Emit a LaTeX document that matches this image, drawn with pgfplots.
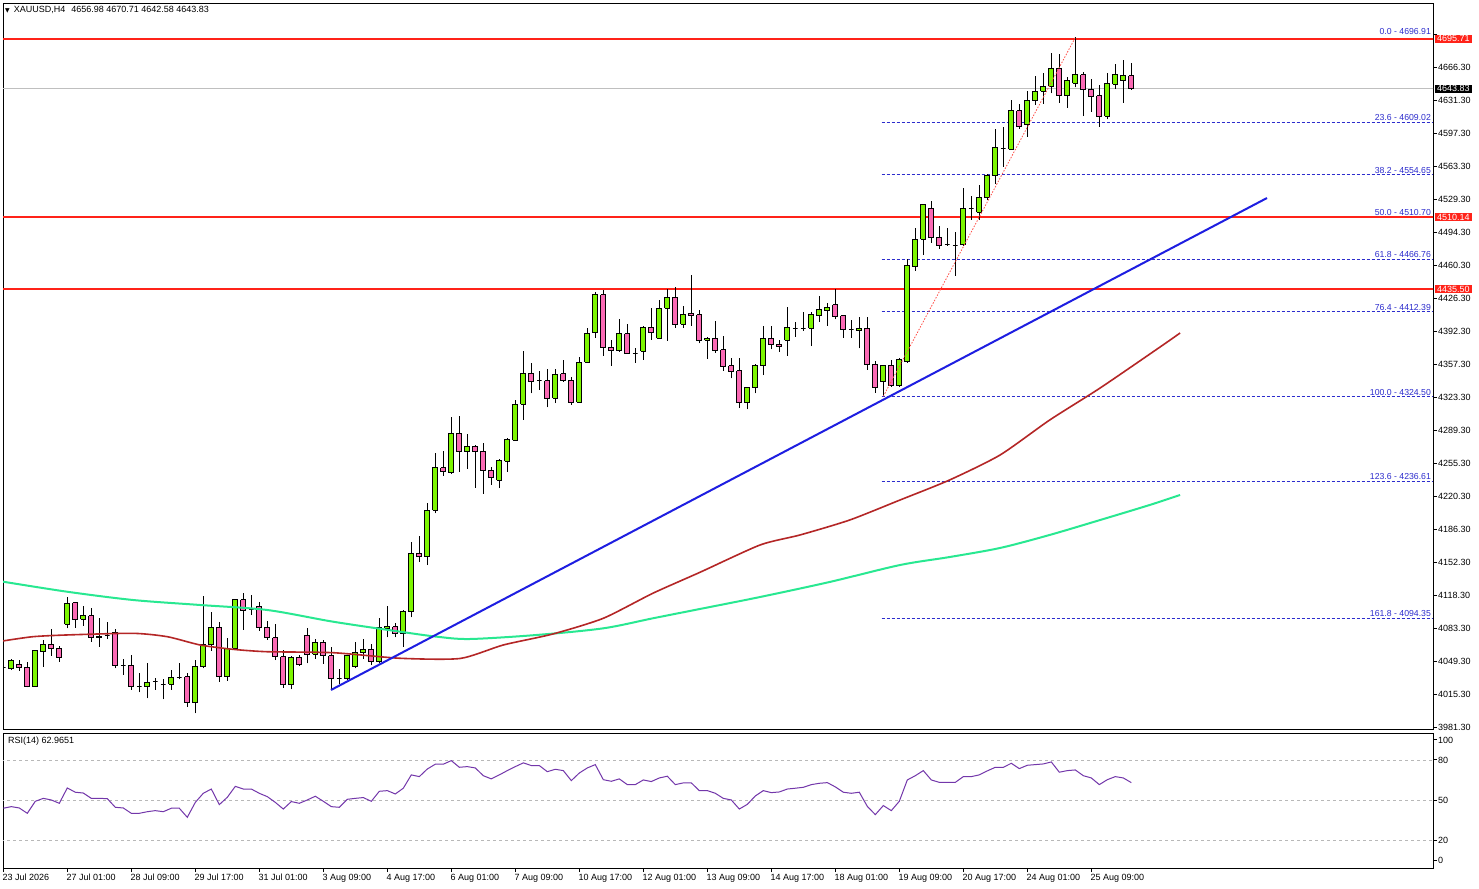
\documentclass[border=0pt]{standalone}
\usepackage{fontspec}
\setmainfont{Liberation Sans}
\newfontfamily\djv{DejaVu Sans}
\usepackage{pgfplots}
\pgfplotsset{compat=1.18}
\definecolor{upcol}{RGB}{124,245,0}
\definecolor{dncol}{RGB}{250,105,180}
\definecolor{maG}{RGB}{40,232,145}
\definecolor{maR}{RGB}{180,38,38}
\definecolor{trend}{RGB}{30,30,225}
\definecolor{hline}{RGB}{255,35,25}
\definecolor{fib}{RGB}{45,45,205}
\definecolor{rsi}{RGB}{115,55,170}
\newcommand{\candle}[5]{%
  \pgfmathsetmacro\xl{#1-0.3}\pgfmathsetmacro\xr{#1+0.3}%
  \ifdim #5pt>#2pt\relax\def\cc{upcol}\else\def\cc{dncol}\fi
  \addplot[black, line width=1pt] coordinates {(#1,#4) (#1,#3)};
  \edef\tmp{\noexpand\addplot[draw=black, fill=\cc, line width=1pt] coordinates {(\xl,#2) (\xr,#2) (\xr,#5) (\xl,#5) (\xl,#2)};}\tmp}
\newcommand{\tf}{\fontsize{9}{10}\selectfont}
\begin{document}
\begin{tikzpicture}
\useasboundingbox (0,0) rectangle (1479pt,888pt);
\fill[white] (0,0) rectangle (1479pt,888pt);
% ---------------- main price panel
\begin{axis}[at={(3pt,159pt)}, anchor=south west, width=1430pt, height=726pt, scale only axis,
  xmin=-0.0375, xmax=178.71, ymin=3979.2, ymax=4732.7,
  clip mode=individual,
  axis line style={black, line width=0.9pt},
  xtick=\empty,
  ytick={4700.3,4666.3,4631.3,4597.3,4563.3,4529.3,4494.3,4460.3,4426.3,4392.3,4357.3,4323.3,4289.3,4255.3,4220.3,4186.3,4152.3,4118.3,4083.3,4049.3,4015.3,3981.3},
  yticklabels={{},4666.30,4631.30,4597.30,4563.30,4529.30,4494.30,4460.30,4426.30,4392.30,4357.30,4323.30,4289.30,4255.30,4220.30,4186.30,4152.30,4118.30,4083.30,4049.30,4015.30,3981.30},
  ytick pos=right, yticklabel pos=right, tick align=outside, major tick length=4pt,
  major tick style={black, line width=0.9pt},
  yticklabel style={font=\tf, anchor=west, inner sep=1pt},
]
% current price line
\addplot[black!25, line width=0.8pt] coordinates {(-1,4643.83) (180,4643.83)};
% fib levels
\addplot[fib, line width=0.8pt, dash pattern=on 3pt off 2pt] coordinates {(109.8,4609.02) (178.71,4609.02)};
\addplot[fib, line width=0.8pt, dash pattern=on 3pt off 2pt] coordinates {(109.8,4554.65) (178.71,4554.65)};
\addplot[fib, line width=0.8pt, dash pattern=on 3pt off 2pt] coordinates {(109.8,4510.70) (178.71,4510.70)};
\addplot[fib, line width=0.8pt, dash pattern=on 3pt off 2pt] coordinates {(109.8,4466.76) (178.71,4466.76)};
\addplot[fib, line width=0.8pt, dash pattern=on 3pt off 2pt] coordinates {(109.8,4412.39) (178.71,4412.39)};
\addplot[fib, line width=0.8pt, dash pattern=on 3pt off 2pt] coordinates {(109.8,4324.50) (178.71,4324.50)};
\addplot[fib, line width=0.8pt, dash pattern=on 3pt off 2pt] coordinates {(109.8,4236.61) (178.71,4236.61)};
\addplot[fib, line width=0.8pt, dash pattern=on 3pt off 2pt] coordinates {(109.8,4094.35) (178.71,4094.35)};
% horizontal resistance / support lines
\addplot[hline, line width=2pt] coordinates {(-1,4695.71) (180,4695.71)};
\addplot[hline, line width=2pt] coordinates {(-1,4510.14) (180,4510.14)};
\addplot[hline, line width=2pt] coordinates {(-1,4435.50) (180,4435.50)};
% candles: index, open, high, low, close
\candle{0}{4043.0}{4047.7}{4038.4}{4043.0}
\candle{1}{4041.8}{4051.6}{4040.4}{4049.8}
\candle{2}{4046.4}{4050.8}{4039.7}{4043.2}
\candle{3}{4043.2}{4048.4}{4022.5}{4023.1}
\candle{4}{4023.1}{4061.2}{4022.8}{4060.2}
\candle{5}{4059.4}{4071.6}{4043.9}{4067.1}
\candle{6}{4067.1}{4083.0}{4055.3}{4063.0}
\candle{7}{4063.0}{4065.4}{4049.1}{4053.2}
\candle{8}{4087.9}{4116.5}{4083.7}{4109.7}
\candle{9}{4110.3}{4111.3}{4084.4}{4093.1}
\candle{10}{4093.1}{4106.9}{4086.1}{4096.5}
\candle{11}{4096.5}{4104.5}{4069.8}{4074.4}
\candle{12}{4074.0}{4094.1}{4064.6}{4075.7}
\candle{13}{4076.3}{4090.3}{4072.6}{4076.3}
\candle{14}{4079.6}{4083.0}{4042.2}{4045.3}
\candle{15}{4045.3}{4051.6}{4035.3}{4045.3}
\candle{16}{4045.3}{4055.7}{4019.7}{4023.8}
\candle{17}{4023.5}{4037.6}{4017.3}{4023.5}
\candle{18}{4022.8}{4047.4}{4011.1}{4027.7}
\candle{19}{4029.0}{4031.8}{4019.7}{4029.0}
\candle{20}{4025.6}{4031.1}{4010.0}{4025.6}
\candle{21}{4025.6}{4040.4}{4019.7}{4032.9}
\candle{22}{4032.9}{4047.4}{4030.8}{4032.9}
\candle{23}{4033.5}{4037.0}{4002.4}{4006.5}
\candle{24}{4006.5}{4050.8}{3995.5}{4044.3}
\candle{25}{4043.9}{4117.6}{4042.2}{4066.4}
\candle{26}{4066.4}{4100.3}{4060.5}{4084.8}
\candle{27}{4084.8}{4090.3}{4028.3}{4033.5}
\candle{28}{4033.5}{4073.4}{4029.3}{4063.0}
\candle{29}{4063.0}{4114.1}{4062.2}{4113.1}
\candle{30}{4113.1}{4120.7}{4082.0}{4102.7}
\candle{31}{4103.5}{4118.3}{4097.5}{4103.5}
\candle{32}{4106.6}{4111.3}{4081.2}{4084.4}
\candle{33}{4084.8}{4091.3}{4071.6}{4074.0}
\candle{34}{4074.0}{4087.9}{4050.8}{4054.3}
\candle{35}{4054.3}{4061.2}{4022.1}{4024.9}
\candle{36}{4024.9}{4055.0}{4020.4}{4053.6}
\candle{37}{4053.6}{4056.0}{4044.6}{4046.4}
\candle{38}{4076.5}{4083.7}{4047.4}{4056.7}
\candle{39}{4056.7}{4072.3}{4052.2}{4068.8}
\candle{40}{4069.2}{4071.6}{4046.7}{4055.3}
\candle{41}{4055.3}{4064.6}{4019.7}{4031.8}
\candle{42}{4031.6}{4041.5}{4025.9}{4031.6}
\candle{43}{4031.1}{4056.0}{4030.1}{4055.3}
\candle{44}{4043.9}{4069.2}{4042.2}{4058.4}
\candle{45}{4058.4}{4072.6}{4051.6}{4061.9}
\candle{46}{4061.9}{4067.4}{4045.6}{4049.1}
\candle{47}{4049.1}{4094.1}{4048.0}{4084.8}
\candle{48}{4083.7}{4106.9}{4074.4}{4085.4}
\candle{49}{4085.4}{4088.9}{4074.4}{4077.8}
\candle{50}{4077.8}{4102.7}{4064.6}{4101.0}
\candle{51}{4101.0}{4173.0}{4095.1}{4161.6}
\candle{52}{4161.6}{4179.5}{4152.9}{4158.0}
\candle{53}{4158.0}{4214.1}{4149.4}{4206.2}
\candle{54}{4206.2}{4266.0}{4203.1}{4251.1}
\candle{55}{4250.1}{4268.1}{4242.1}{4246.3}
\candle{56}{4245.2}{4303.4}{4243.9}{4286.1}
\candle{57}{4286.1}{4304.1}{4246.3}{4267.0}
\candle{58}{4267.0}{4285.4}{4249.1}{4272.6}
\candle{59}{4272.6}{4274.0}{4229.7}{4267.0}
\candle{60}{4267.4}{4276.4}{4223.1}{4247.3}
\candle{61}{4248.0}{4251.5}{4232.5}{4240.0}
\candle{62}{4237.3}{4259.8}{4229.3}{4257.4}
\candle{63}{4257.1}{4280.9}{4246.3}{4279.2}
\candle{64}{4278.9}{4320.7}{4278.4}{4316.5}
\candle{65}{4316.5}{4371.9}{4299.9}{4348.4}
\candle{66}{4348.4}{4358.8}{4327.6}{4339.7}
\candle{67}{4340.6}{4350.8}{4331.1}{4340.6}
\candle{68}{4340.4}{4352.9}{4313.1}{4322.4}
\candle{69}{4322.4}{4352.9}{4317.3}{4347.4}
\candle{70}{4347.7}{4362.2}{4339.7}{4341.4}
\candle{71}{4341.4}{4344.9}{4315.5}{4318.3}
\candle{72}{4318.3}{4365.0}{4317.9}{4359.8}
\candle{73}{4359.8}{4395.1}{4359.1}{4389.9}
\candle{74}{4390.5}{4433.1}{4385.3}{4429.7}
\candle{75}{4429.7}{4434.9}{4366.4}{4375.4}
\candle{76}{4375.4}{4383.0}{4356.0}{4371.9}
\candle{77}{4371.9}{4404.4}{4370.8}{4389.2}
\candle{78}{4389.2}{4399.6}{4368.4}{4369.2}
\candle{79}{4368.6}{4374.3}{4359.4}{4368.6}
\candle{80}{4371.5}{4397.5}{4362.2}{4396.1}
\candle{81}{4396.1}{4415.9}{4383.0}{4391.0}
\candle{82}{4384.7}{4424.5}{4384.0}{4415.9}
\candle{83}{4415.9}{4435.6}{4382.2}{4427.3}
\candle{84}{4427.3}{4437.7}{4395.7}{4399.3}
\candle{85}{4399.3}{4418.2}{4395.7}{4408.9}
\candle{86}{4410.7}{4450.4}{4397.8}{4408.2}
\candle{87}{4408.9}{4414.1}{4379.5}{4382.2}
\candle{88}{4382.6}{4386.4}{4363.5}{4385.0}
\candle{89}{4385.0}{4402.7}{4369.8}{4371.9}
\candle{90}{4372.6}{4387.1}{4350.8}{4355.2}
\candle{91}{4356.0}{4364.0}{4343.2}{4350.1}
\candle{92}{4350.8}{4364.0}{4312.1}{4317.9}
\candle{93}{4317.9}{4334.5}{4311.0}{4333.9}
\candle{94}{4333.5}{4357.7}{4327.6}{4356.7}
\candle{95}{4356.0}{4397.5}{4346.6}{4384.7}
\candle{96}{4384.7}{4397.5}{4373.3}{4378.1}
\candle{97}{4378.5}{4383.0}{4370.8}{4376.0}
\candle{98}{4382.6}{4416.9}{4366.7}{4396.1}
\candle{99}{4395.3}{4401.3}{4386.4}{4395.3}
\candle{100}{4395.3}{4412.3}{4392.6}{4395.3}
\candle{101}{4395.1}{4411.7}{4376.7}{4408.9}
\candle{102}{4408.2}{4428.6}{4402.0}{4414.1}
\candle{103}{4413.4}{4421.7}{4397.8}{4416.9}
\candle{104}{4419.3}{4435.6}{4404.4}{4407.1}
\candle{105}{4407.9}{4408.9}{4385.3}{4394.1}
\candle{106}{4393.5}{4403.7}{4385.3}{4393.5}
\candle{107}{4392.6}{4406.5}{4374.3}{4395.1}
\candle{108}{4395.1}{4407.1}{4351.8}{4357.7}
\candle{109}{4357.7}{4361.2}{4328.3}{4333.5}
\candle{110}{4339.7}{4357.0}{4324.5}{4356.7}
\candle{111}{4356.7}{4362.2}{4334.5}{4335.2}
\candle{112}{4335.2}{4364.3}{4334.5}{4362.2}
\candle{113}{4360.4}{4466.7}{4359.4}{4459.8}
\candle{114}{4459.0}{4498.9}{4454.9}{4487.5}
\candle{115}{4487.5}{4524.1}{4471.2}{4523.1}
\candle{116}{4519.6}{4527.2}{4483.9}{4489.6}
\candle{117}{4489.6}{4501.3}{4477.4}{4480.8}
\candle{118}{4481.7}{4498.9}{4480.5}{4481.7}
\candle{119}{4481.4}{4495.4}{4449.7}{4481.4}
\candle{120}{4481.6}{4540.4}{4480.5}{4519.6}
\candle{121}{4519.0}{4532.4}{4507.5}{4519.0}
\candle{122}{4515.5}{4543.8}{4507.5}{4531.1}
\candle{123}{4530.7}{4555.3}{4528.3}{4553.5}
\candle{124}{4553.5}{4602.0}{4544.9}{4583.0}
\candle{125}{4581.5}{4604.3}{4562.8}{4581.5}
\candle{126}{4580.9}{4632.1}{4580.2}{4620.6}
\candle{127}{4620.6}{4627.9}{4602.0}{4604.3}
\candle{128}{4606.1}{4641.7}{4594.0}{4631.3}
\candle{129}{4631.3}{4657.0}{4626.9}{4641.1}
\candle{130}{4641.1}{4659.8}{4628.0}{4646.3}
\candle{131}{4646.3}{4680.5}{4639.0}{4665.0}
\candle{132}{4665.0}{4679.8}{4629.3}{4636.5}
\candle{133}{4636.5}{4656.2}{4624.1}{4651.8}
\candle{134}{4649.4}{4696.91}{4645.2}{4658.0}
\candle{135}{4658.0}{4661.4}{4615.4}{4643.2}
\candle{136}{4643.2}{4653.5}{4619.9}{4635.5}
\candle{137}{4636.2}{4647.6}{4604.3}{4615.4}
\candle{138}{4615.4}{4659.8}{4612.0}{4648.7}
\candle{139}{4648.3}{4669.4}{4643.2}{4659.0}
\candle{140}{4652.1}{4673.6}{4629.3}{4657.0}
\candle{141}{4656.98}{4670.71}{4642.58}{4643.83}
% moving averages
\addplot[maG, line width=2pt, smooth] coordinates {
(-0.04,4132.1) (7.96,4121.7) (16.2,4113.1) (24.6,4107.9) (33.0,4102.7) (41.2,4090.6)
(49.6,4080.2) (54.2,4075.0) (58.3,4072.6) (66.7,4076.8) (75.0,4083.7) (81.2,4094.1)
(87.1,4103.8) (94.6,4116.2) (103.3,4131.8) (112.1,4149.4) (118.3,4157.7) (124.6,4167.1)
(130.8,4180.6) (137.1,4196.1) (143.3,4211.7) (147.1,4222.1)};
\addplot[maR, line width=1.6pt, smooth, tension=0.4] coordinates {
(-0.04,4070.6) (3.7,4075.0) (7.96,4076.8) (16.2,4078.5) (20.5,4075.0) (24.6,4066.4)
(28.7,4061.9) (33.0,4059.4) (41.2,4058.4) (49.6,4052.6) (57.1,4052.4) (62.5,4066.4)
(68.7,4077.8) (75.0,4094.1) (81.2,4120.1) (87.1,4141.9) (94.6,4170.2) (99.6,4180.6)
(105.8,4196.1) (112.1,4216.9) (118.3,4237.7) (124.6,4263.6) (130.8,4299.9) (137.1,4333.1)
(144.6,4375.7) (147.1,4390.2)};
% trend line
\addplot[trend, line width=2pt] coordinates {(40.96,4019.7) (157.96,4530.3)};
% fib retracement diagonal
\addplot[hline!80, line width=0.8pt, dash pattern=on 1.5pt off 1.5pt] coordinates {(110,4324.5) (134,4696.91)};
% fib texts
\begin{scope}[every node/.style={anchor=south east, font=\fontsize{8.7}{9.5}\selectfont, text=fib, inner sep=1pt}]
\node at (axis cs:178.6,4698.5) {0.0 - 4696.91};
\node at (axis cs:178.6,4609.02) {23.6 - 4609.02};
\node at (axis cs:178.6,4554.65) {38.2 - 4554.65};
\node at (axis cs:178.6,4510.70) {50.0 - 4510.70};
\node at (axis cs:178.6,4466.76) {61.8 - 4466.76};
\node at (axis cs:178.6,4412.39) {76.4 - 4412.39};
\node at (axis cs:178.6,4324.50) {100.0 - 4324.50};
\node at (axis cs:178.6,4236.61) {123.6 - 4236.61};
\node at (axis cs:178.6,4094.35) {161.8 - 4094.35};
\end{scope}
% price boxes on the scale
\begin{scope}[every node/.style={anchor=west, font=\tf, text=white, inner xsep=2.5pt, inner ysep=0.8pt, xshift=1.5pt}]
\node[fill=hline] at (axis cs:178.71,4695.71) {4695.71};
\node[fill=black] at (axis cs:178.71,4643.83) {4643.83};
\node[fill=hline] at (axis cs:178.71,4510.14) {4510.14};
\node[fill=hline] at (axis cs:178.71,4435.50) {4435.50};
\end{scope}
\end{axis}
% header
\node[anchor=west, font=\tf, inner sep=0pt] at (5pt,878pt) {{\djv\fontsize{6}{7}\selectfont ▼}\hspace{4pt}XAUUSD,H4\hspace{6pt}4656.98 4670.71 4642.58 4643.83};
% ---------------- RSI panel
\begin{axis}[at={(3pt,20pt)}, anchor=south west, width=1430pt, height=135pt, scale only axis,
  xmin=-0.0375, xmax=178.71, ymin=-1, ymax=100.2,
  clip mode=individual,
  axis line style={black, line width=0.9pt},
  xtick={0,8,16,24,32,40,48,56,64,72,80,88,96,104,112,120,128,136},
  xticklabels={23 Jul 2026,27 Jul 01:00,28 Jul 09:00,29 Jul 17:00,31 Jul 01:00,3 Aug 09:00,4 Aug 17:00,6 Aug 01:00,7 Aug 09:00,10 Aug 17:00,12 Aug 01:00,13 Aug 09:00,14 Aug 17:00,18 Aug 01:00,19 Aug 09:00,20 Aug 17:00,24 Aug 01:00,25 Aug 09:00},
  xtick pos=bottom,
  xticklabel style={font=\tf, anchor=north west, inner sep=0pt, xshift=-1pt, yshift=-2pt},
  ytick={5,20,50,80,95}, yticklabels={0,20,50,80,100},
  ytick pos=right, yticklabel pos=right, tick align=outside, major tick length=4pt,
  major tick style={black, line width=0.9pt},
  yticklabel style={font=\tf, anchor=west, inner sep=1pt},
]
\addplot[black!28, line width=0.8pt, dash pattern=on 3pt off 3pt] coordinates {(-1,80) (180,80)};
\addplot[black!28, line width=0.8pt, dash pattern=on 3pt off 3pt] coordinates {(-1,50) (180,50)};
\addplot[black!28, line width=0.8pt, dash pattern=on 3pt off 3pt] coordinates {(-1,20) (180,20)};
\addplot[rsi, line width=1pt] coordinates {
(0,43.8) (1,45.0) (2,44.0) (3,40.0) (4,49.0) (5,51.2) (6,50.0) (7,47.5) (8,59.0) (9,55.8)
(10,55.2) (11,51.2) (12,51.2) (13,51.0) (14,44.5) (15,44.0) (16,40.0) (17,40.0) (18,41.2) (19,42.0)
(20,41.2) (21,43.8) (22,43.8) (23,37.0) (24,48.2) (25,55.0) (26,58.2) (27,46.5) (28,52.0) (29,60.2)
(30,58.2) (31,58.2) (32,55.0) (33,52.5) (34,48.2) (35,43.2) (36,48.8) (37,47.5) (38,50.0) (39,52.8)
(40,49.0) (41,45.0) (42,44.5) (43,50.5) (44,51.2) (45,51.8) (46,49.0) (47,56.5) (48,57.0) (49,54.5)
(50,58.8) (51,68.8) (52,67.5) (53,73.2) (54,76.8) (55,76.8) (56,79.5) (57,74.5) (58,75.0) (59,74.0)
(60,68.2) (61,65.8) (62,68.8) (63,72.0) (64,75.0) (65,77.8) (66,75.8) (67,75.8) (68,71.2) (69,73.0)
(70,72.0) (71,64.5) (72,70.2) (73,74.0) (74,76.5) (75,65.2) (76,64.0) (77,65.8) (78,61.5) (79,61.5)
(80,65.0) (81,63.8) (82,66.5) (83,67.8) (84,61.5) (85,62.8) (86,62.8) (87,57.0) (88,57.0) (89,55.0)
(90,51.2) (91,50.0) (92,43.2) (93,46.7) (94,53.0) (95,57.0) (96,55.5) (97,56.0) (98,58.2) (99,58.8)
(100,59.5) (101,61.5) (102,62.5) (103,63.0) (104,59.8) (105,55.8) (106,55.0) (107,55.8) (108,45.2) (109,39.0)
(110,45.8) (111,42.0) (112,49.0) (113,65.0) (114,68.2) (115,72.0) (116,65.0) (117,63.2) (118,63.2) (119,63.2)
(120,67.5) (121,67.5) (122,68.8) (123,71.8) (124,74.5) (125,74.5) (126,77.5) (127,73.5) (128,76.0) (129,76.5)
(130,77.0) (131,78.5) (132,70.8) (133,72.0) (134,72.5) (135,68.2) (136,66.5) (137,61.5) (138,65.2) (139,67.5)
(140,66.5) (141,63.0)};
\end{axis}
\node[anchor=west, font=\tf, inner sep=0pt] at (8pt,147pt) {RSI(14) 62.9651};
\end{tikzpicture}
\end{document}
